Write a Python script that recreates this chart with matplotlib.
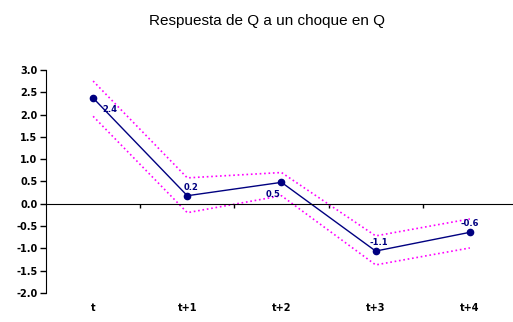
import matplotlib.pyplot as plt
import matplotlib.transforms as mtransforms

plt.rcParams['font.family'] = ['Liberation Sans', 'DejaVu Sans']

# respuesta de Q a un choque en Q, con bandas
periodos = ['t', 't+1', 't+2', 't+3', 't+4']
respuesta = [2.37, 0.18, 0.48, -1.06, -0.64]
banda_sup = [2.75, 0.58, 0.70, -0.72, -0.34]
banda_inf = [1.96, -0.20, 0.18, -1.37, -0.99]
etiquetas = ['2.4', '0.2', '0.5', '-1.1', '-0.6']
# posicion de cada etiqueta respecto al punto (dx, dy en puntos)
desplaz = [(12, -8), (3, 6), (-6, -9), (2, 6), (0, 6)]

fig = plt.figure(figsize=(5.13, 3.22), dpi=100)
ax = fig.add_axes([0.0897, 0.090, 0.918, 0.693])

x = list(range(len(periodos)))
ax.plot(x, banda_sup, ':', color='#ff00ff', lw=1.2)
ax.plot(x, banda_inf, ':', color='#ff00ff', lw=1.2)
ax.plot(x, respuesta, '-', color='#000080', lw=1.0,
        marker='o', markersize=4.5, markerfacecolor='#000080')

for xi, yi, txt, (dx, dy) in zip(x, respuesta, etiquetas, desplaz):
    ax.annotate(txt, (xi, yi), xytext=(dx, dy), textcoords='offset points',
                ha='center', va='center', fontsize=6, fontweight='bold',
                color='#000080', family='DejaVu Sans')

ax.set_xlim(-0.5, 4.5)
ax.set_ylim(-2.0, 3.0)
ax.set_yticks([v / 2 for v in range(-4, 7)])
ax.set_yticklabels(['%.1f' % (v / 2) for v in range(-4, 7)],
                   fontsize=7, fontweight='bold', family='DejaVu Sans')
ax.tick_params(axis='y', length=4, width=1, pad=2)

# eje horizontal en cero con marcas entre periodos
ax.spines['top'].set_visible(False)
ax.spines['right'].set_visible(False)
ax.spines['bottom'].set_position(('data', 0))
ax.set_xticks([i + 0.5 for i in range(len(periodos))])
ax.set_xticklabels([])
ax.tick_params(axis='x', length=3, width=1, direction='out')

trans = mtransforms.blended_transform_factory(ax.transData, ax.transAxes)
for xi, lab in zip(x, periodos):
    ax.text(xi, -0.065, lab, transform=trans, ha='center', va='center',
            fontsize=7, fontweight='bold', family='DejaVu Sans')

fig.text(0.52, 0.935, 'Respuesta de Q a un choque en Q', ha='center',
         va='center', fontsize=11)

fig.savefig('out.png', dpi=100)
